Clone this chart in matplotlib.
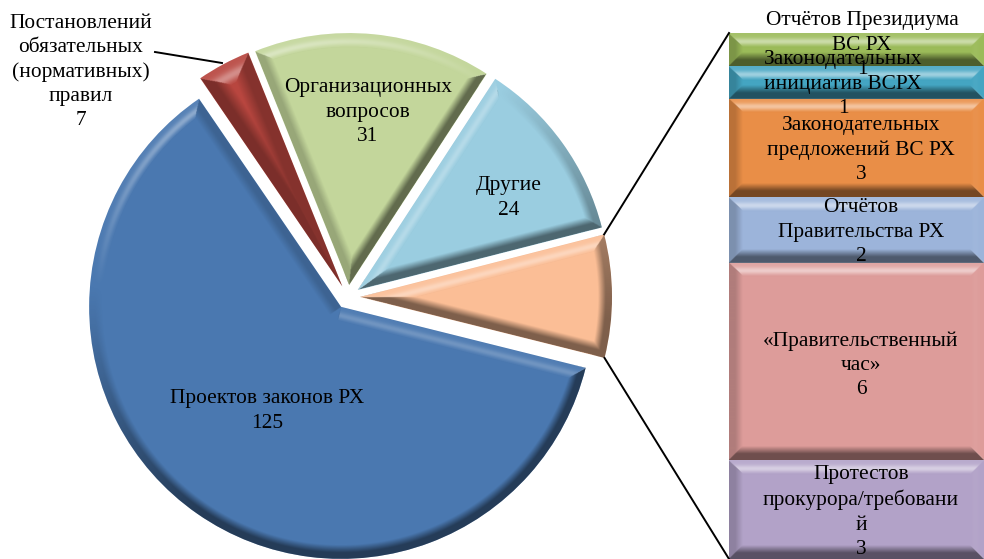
import numpy as np
import matplotlib
matplotlib.use("Agg")
import matplotlib.pyplot as plt

plt.rcParams['font.family'] = ['Liberation Serif', 'DejaVu Serif']

pie_labels = ["Проектов законов РХ\n125",
              "Постановлений\nобязательных\n(нормативных)\nправил\n7",
              "Организационных\nвопросов\n31",
              "Другие\n24",
              ""]
pie_values = [125, 7, 31, 24, 16]
pie_colors = ["#4A78B0", "#B8463F", "#C3D69B", "#9ACDE0", "#FBBE96"]

bar_labels = ["Отчётов Президиума\nВС РХ\n1",
              "Законодательных\nинициатив ВСРХ\n1",
              "Законодательных\nпредложений ВС РХ\n3",
              "Отчётов\nПравительства РХ\n2",
              "«Правительственный\nчас»\n6",
              "Протестов\nпрокурора/требовани\nй\n3"]
bar_values = [1, 1, 3, 2, 6, 3]
bar_colors = ["#9BBB59", "#44A5C2", "#E98E47", "#9CB4DA", "#DD9C9A", "#B2A2C8"]

W, H = 984, 559
pie_label_pos = [(267, 411), (81, 72), (368, 112), (509, 198), None]
pie_bevel = [14, 22, 14, 14, 14]
bar_label_pos = [(862, 45), (843, 84), (861, 150), (861, 232), (861, 365), (861, 512)]
FS = 15.4
LS = 1.37


def Y(py):
    return H - py


fig = plt.figure(figsize=(W / 100, H / 100), dpi=100)
ax_bar = fig.add_axes([729 / W, 0, 255 / W, (H - 33) / H], zorder=0)
ax = fig.add_axes([0, 0, 1, 1], zorder=1)
ax.patch.set_alpha(0)

# ---------- pie ----------
R, CX, CY, E = 252, 348, Y(297), 12
wedges, _ = ax.pie(pie_values, colors=pie_colors, explode=[E] * len(pie_values),
                   radius=R, center=(CX, CY), startangle=-14, counterclock=False,
                   frame=True)


def light_overlay(lum, t):
    """RGBA overlay from facet brightness and relative depth in the bevel."""
    rgba = np.zeros(lum.shape + (4,))
    on = t < 1
    dark = on & (lum < 0)
    lite = on & (lum >= 0)
    fade = np.clip((1 - t) / 0.55, 0, 1)
    rgba[..., 3][dark] = (np.minimum(-lum, 1) * 0.5 * fade)[dark]
    bump = np.exp(-((t - 0.62) / 0.24) ** 2)
    rgba[..., :3][lite] = 1
    rgba[..., 3][lite] = (np.minimum(lum * 1.6, 1) * (0.1 * fade + 0.42 * bump))[lite]
    return rgba


SS = 2
gx, gy = np.meshgrid((np.arange(W * SS) + 0.5) / SS, H - (np.arange(H * SS) + 0.5) / SS)
for w, b in zip(wedges, pie_bevel):
    ax_, ay_ = w.center
    px, py = gx - ax_, gy - ay_
    r = np.hypot(px, py)
    phi = np.degrees(np.arctan2(py, px))
    t1, t2 = np.radians(w.theta1), np.radians(w.theta2)
    d_arc = R - r
    d1 = -px * np.sin(t1) + py * np.cos(t1)
    d2 = px * np.sin(t2) - py * np.cos(t2)
    along1 = px * np.cos(t1) + py * np.sin(t1)
    along2 = px * np.cos(t2) + py * np.sin(t2)
    d1 = np.where((d1 < 0) | (along1 < 0), 1e6, d1)
    d2 = np.where((d2 < 0) | (along2 < 0), 1e6, d2)
    stack = np.stack([d_arc, d1, d2])
    which = stack.argmin(axis=0)
    d = stack.min(axis=0)
    normal = np.where(which == 0, phi, np.where(which == 1, w.theta1 - 90, w.theta2 + 90))
    lum = np.cos(np.radians(normal - 115)) - 0.5
    rgba = light_overlay(lum, d / b)
    im = ax.imshow(rgba, extent=(0, W, 0, H), aspect='auto', zorder=2,
                   interpolation='bilinear')
    im.set_clip_path(w)

ax.set_xlim(0, W)
ax.set_ylim(0, H)
ax.set_aspect('auto')
ax.axis('off')

# ---------- stacked bar ----------
bottoms = np.concatenate([[0], np.cumsum(bar_values)[:-1]])
bars = ax_bar.bar([0.5] * len(bar_values), bar_values, width=1, bottom=bottoms,
                  color=bar_colors, linewidth=0)
ax_bar.set_xlim(0, 1)
ax_bar.set_ylim(sum(bar_values), 0)
ax_bar.axis('off')

unit_px = (H - 33) / sum(bar_values)
BB = 14
for v, bot in zip(bar_values, bottoms):
    hpx = int(round(v * unit_px)) * SS
    wpx = 255 * SS
    xx, yy = np.meshgrid((np.arange(wpx) + 0.5) / SS, (np.arange(hpx) + 0.5) / SS)
    hh = hpx / SS
    dist = np.stack([yy, hh - yy, xx, 255 - xx])   # top, bottom, left, right
    which = dist.argmin(axis=0)
    d = dist.min(axis=0)
    lum = np.array([0.62, -1.1, -0.4, 0.05])[which]
    rgba = light_overlay(lum, d / min(BB, hh * 0.46))
    ax_bar.imshow(rgba, extent=(0, 1, bot + v, bot), aspect='auto', zorder=3,
                  interpolation='bilinear')
ax_bar.set_xlim(0, 1)
ax_bar.set_ylim(sum(bar_values), 0)
ax_bar.set_aspect('auto')

# ---------- connectors ----------
org = wedges[-1]
ox, oy = org.center
for ang, target in ((org.theta2, 33), (org.theta1, 559)):
    a = np.radians(ang)
    ax.plot([ox + R * np.cos(a), 729], [oy + R * np.sin(a), Y(target)],
            color='black', lw=1.4, zorder=4, clip_on=False)
ax.plot([155, 222], [Y(52), Y(63)], color='black', lw=1.4, zorder=4)

# ---------- labels ----------
for text, pos in zip(pie_labels, pie_label_pos):
    if pos:
        ax.text(pos[0], Y(pos[1]), text, ha='center', va='center', fontsize=FS,
                linespacing=LS, color='black', zorder=5)
for text, pos in zip(bar_labels, bar_label_pos):
    ax.text(pos[0], Y(pos[1]), text, ha='center', va='center', fontsize=FS,
            linespacing=LS, color='black', zorder=5)

fig.savefig("out.png", dpi=100)
